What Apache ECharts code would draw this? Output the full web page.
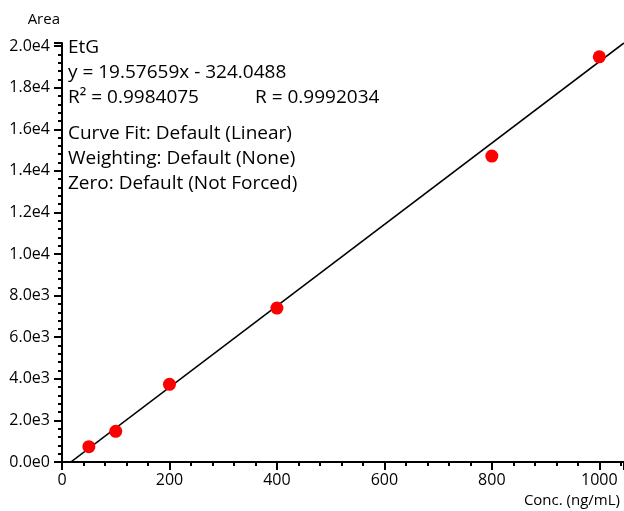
<!DOCTYPE html>
<html>
<head>
<meta charset="utf-8">
<script src="https://cdn.jsdelivr.net/npm/echarts@6/dist/echarts.min.js"></script>
<style>
  html, body { margin: 0; padding: 0; background: #fff; }
  #chart { width: 624px; height: 511px; }
</style>
</head>
<body>
<div id="chart"></div>
<script>
// calibration standards (concentration, peak area)
const concValues = [50, 100, 200, 400, 800, 1000]
const areaValues = [735, 1476, 3736, 7404, 14712, 19486]

// regression from the annotation
const slope = 19.57659
const intercept = -324.0488
const fitRange = [0, 1046]

const infoLines = [
  'EtG',
  'y = 19.57659x - 324.0488',
  'R² = 0.9984075',
  'Curve Fit: Default (Linear)',
  'Weighting: Default (None)',
  'Zero: Default (Not Forced)',
]
const rText = 'R = 0.9992034'

const FONT = '"Open Sans", "Noto Sans", sans-serif'

const chart = echarts.init(document.getElementById('chart'))

const points = concValues.map((c, i) => [c, areaValues[i]])
const fitLine = fitRange.map((x) => [x, slope * x + intercept])

// positions of the annotation lines (centre y)
const infoY = [47, 72, 97, 133, 158, 183]

const option = {
  animation: false,
  grid: { left: 62, right: 0, top: 43, bottom: 49, containLabel: false },
  xAxis: {
    type: 'value',
    min: 0,
    max: 1046,
    interval: 200,
    name: 'Conc. (ng/mL)',
    nameLocation: 'end',
    nameGap: 0,
    nameTextStyle: {
      color: '#000', fontFamily: FONT, fontSize: 15,
      align: 'right', verticalAlign: 'top', padding: [31, 4, 0, 0],
    },
    axisLine: { lineStyle: { color: '#000', width: 2 } },
    axisTick: { show: true, length: 8, lineStyle: { color: '#000', width: 2 } },
    minorTick: { show: true, splitNumber: 5, length: 4, lineStyle: { color: '#000', width: 2 } },
    axisLabel: {
      color: '#000', fontFamily: FONT, fontSize: 16, margin: 10,
      showMaxLabel: false,
      formatter: (v) => String(v),
    },
    splitLine: { show: false },
  },
  yAxis: {
    type: 'value',
    min: 0,
    max: 20150,
    interval: 2000,
    name: 'Area',
    nameLocation: 'end',
    nameGap: 16,
    nameTextStyle: {
      color: '#000', fontFamily: FONT, fontSize: 15,
      align: 'right', padding: [0, 2, 0, 0],
    },
    axisLine: { lineStyle: { color: '#000', width: 2 } },
    axisTick: { show: true, length: 8, lineStyle: { color: '#000', width: 2 } },
    minorTick: { show: true, splitNumber: 5, length: 4, lineStyle: { color: '#000', width: 2 } },
    axisLabel: {
      color: '#000', fontFamily: FONT, fontSize: 16, margin: 12,
      showMaxLabel: false,
      formatter: (v) => v.toExponential(1).replace('+', ''),
    },
    splitLine: { show: false },
  },
  series: [
    {
      type: 'line',
      data: fitLine,
      symbol: 'none',
      clip: true,
      lineStyle: { color: '#000', width: 1.5 },
      z: 2,
    },
    {
      type: 'scatter',
      data: points,
      symbol: 'circle',
      symbolSize: 13,
      itemStyle: { color: '#ff0000', opacity: 1 },
      z: 3,
    },
  ],
  graphic: [
    ...infoLines.map((t, i) => ({
      type: 'text',
      left: 68,
      top: infoY[i] - 9,
      style: { text: t, fill: '#000', font: '19px ' + FONT },
    })),
    {
      type: 'text',
      left: 255,
      top: infoY[2] - 9,
      style: { text: rText, fill: '#000', font: '19px ' + FONT },
    },
  ],
}

chart.setOption(option)
</script>
</body>
</html>
